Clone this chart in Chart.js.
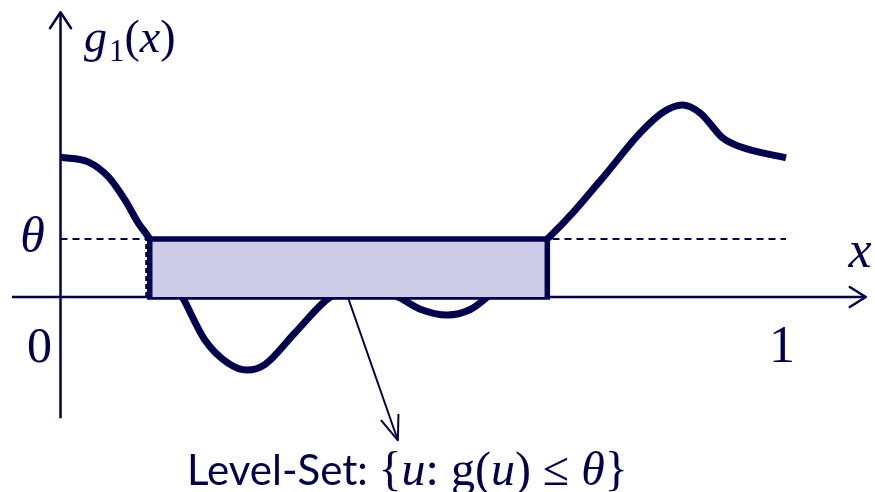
<!DOCTYPE html>
<html>
<head>
<meta charset="utf-8">
<script src="https://cdn.jsdelivr.net/npm/chart.js@4/dist/chart.umd.min.js"></script>
<style>
  html, body { margin: 0; padding: 0; background: #fff; }
  #wrap { width: 875px; height: 492px; }
</style>
</head>
<body>
<div id="wrap"><canvas id="chart" width="875" height="492"></canvas></div>
<script>
// curve g1(x), x in [0,1], y measured in units of theta
const curveX = [0, 0.038, 0.066, 0.089, 0.107, 0.123, 0.144, 0.168, 0.199, 0.231, 0.257, 0.282, 0.323, 0.372,
  0.416, 0.465, 0.496, 0.533, 0.564, 0.588, 0.627, 0.671, 0.706, 0.753, 0.799, 0.831, 0.857, 0.882, 0.913, 0.937, 1.0];
const curveY = [2.41, 2.33, 2.07, 1.67, 1.28, 1.0, 0.5, 0, -0.74, -1.14, -1.26, -1.16, -0.62, 0,
  0.17, 0, -0.21, -0.31, -0.22, 0, 0.5, 1.0, 1.45, 2.14, 2.83, 3.19, 3.31, 3.17, 2.74, 2.59, 2.40];

const theta = 1;
const levelSetFrom = 0.123;
const levelSetTo = 0.671;
const xAxisSpan = [-0.067, 1.11];
const yAxisSpan = [-2.09, 4.91];
const pointerFrom = [0.396, 0];
const pointerTo = [0.465, -2.47];
const tickLabels = ["0", "1"];

const navy = "#000050";
const fillColor = "#cccce6";

const seg = (x0, y0, x1, y1) => [{ x: x0, y: y0 }, { x: x1, y: y1 }];

const chevron = (ctx, tx, ty, dx, dy, back, half) => {
  const l = Math.hypot(dx, dy);
  dx /= l; dy /= l;
  ctx.beginPath();
  ctx.moveTo(tx - dx * back - dy * half, ty - dy * back + dx * half);
  ctx.lineTo(tx, ty);
  ctx.lineTo(tx - dx * back + dy * half, ty - dy * back - dx * half);
  ctx.stroke();
};

const decorations = {
  id: "decorations",
  afterDatasetsDraw(chart) {
    const { ctx, scales: { x, y } } = chart;
    ctx.save();
    ctx.strokeStyle = navy;
    ctx.fillStyle = navy;
    ctx.lineCap = "round";
    ctx.lineJoin = "round";

    // arrow heads
    ctx.lineWidth = 2.5;
    chevron(ctx, x.getPixelForValue(0), y.getPixelForValue(yAxisSpan[1]), 0, -1, 16, 10.5);
    chevron(ctx, x.getPixelForValue(xAxisSpan[1]), y.getPixelForValue(0), 1, 0, 16, 10);
    ctx.lineWidth = 2;
    const px0 = x.getPixelForValue(pointerFrom[0]), py0 = y.getPixelForValue(pointerFrom[1]);
    const px1 = x.getPixelForValue(pointerTo[0]), py1 = y.getPixelForValue(pointerTo[1]);
    chevron(ctx, px1, py1, px1 - px0, py1 - py0, 24, 9);

    // axis labels
    const serif = '"Liberation Serif", "Times New Roman", serif';
    ctx.textBaseline = "alphabetic";
    ctx.textAlign = "center";
    ctx.font = "50px " + serif;
    ctx.fillText(tickLabels[0], x.getPixelForValue(0) - 21, y.getPixelForValue(0) + 65);
    ctx.font = "52px " + serif;
    ctx.fillText(tickLabels[1], x.getPixelForValue(1) - 4, y.getPixelForValue(0) + 65);
    ctx.font = "italic 50px " + serif;
    ctx.fillText("\u03B8", x.getPixelForValue(0) - 28, y.getPixelForValue(theta) + 13);
    ctx.font = "italic 52px " + serif;
    ctx.fillText("x", 860, y.getPixelForValue(0) - 30);

    // g1(x)
    ctx.textAlign = "left";
    let cx = 84;
    const by = 52;
    const run = (txt, font, dy = 0) => {
      ctx.font = font;
      ctx.fillText(txt, cx, by + dy);
      cx += ctx.measureText(txt).width;
    };
    run("g", "italic 46px " + serif);
    cx += 2;
    run("1", "31px " + serif, 9);
    run("(", "46px " + serif);
    run("x", "italic 46px " + serif);
    run(")", "46px " + serif);

    // level-set caption
    cx = 187;
    const cy = 485;
    const run2 = (txt, font) => {
      ctx.font = font;
      ctx.fillText(txt, cx, cy);
      cx += ctx.measureText(txt).width;
    };
    run2("Level-Set: ", '42px Lato, "Open Sans", sans-serif');
    run2("{", "48px " + serif);
    run2("u", "italic 48px " + serif);
    run2(": g(", "48px " + serif);
    run2("u", "italic 48px " + serif);
    run2(") \u2264 ", "48px " + serif);
    run2("\u03B8", "italic 48px " + serif);
    run2("}", "48px " + serif);
    ctx.restore();
  }
};

const lineSet = (data, extra) => Object.assign({
  data,
  borderColor: navy,
  backgroundColor: navy,
  pointRadius: 0,
  fill: false,
  tension: 0,
}, extra);

new Chart(document.getElementById("chart"), {
  type: "line",
  data: {
    datasets: [
      lineSet(seg(xAxisSpan[0], 0, xAxisSpan[1], 0), { borderWidth: 2.5, order: 5 }),
      lineSet(seg(0, yAxisSpan[0], 0, yAxisSpan[1]), { borderWidth: 2.5, order: 5 }),
      lineSet(seg(0, theta, 1, theta), { borderWidth: 2, borderDash: [7, 5], order: 4 }),
      lineSet(seg(levelSetFrom - 0.0045, 0, levelSetFrom - 0.0045, theta), { borderWidth: 2.5, borderDash: [5, 3], order: 4 }),
      lineSet(curveX.map((v, i) => ({ x: v, y: curveY[i] })), {
        borderWidth: 7, cubicInterpolationMode: "monotone", borderCapStyle: "butt", order: 3
      }),
      // level set: filled box between 0 and theta
      lineSet([
        { x: levelSetFrom, y: 0 }, { x: levelSetFrom, y: theta },
        { x: levelSetTo, y: theta }, { x: levelSetTo, y: 0 }
      ], { borderWidth: 5.5, fill: "origin", backgroundColor: fillColor, borderJoinStyle: "miter", order: 1 }),
      lineSet(seg(levelSetFrom, 0, levelSetTo, 0), { borderWidth: 5.5, borderCapStyle: "square", order: 1 }),
      lineSet(seg(pointerFrom[0], pointerFrom[1], pointerTo[0], pointerTo[1]), { borderWidth: 2, order: 0 }),
    ]
  },
  options: {
    responsive: false,
    animation: false,
    events: [],
    layout: { padding: 0 },
    plugins: { legend: { display: false }, tooltip: { enabled: false } },
    scales: {
      x: { type: "linear", display: false, min: -0.0834, max: 1.1227 },
      y: { type: "linear", display: false, min: -3.362, max: 5.121 }
    }
  },
  plugins: [decorations]
});
</script>
</body>
</html>
